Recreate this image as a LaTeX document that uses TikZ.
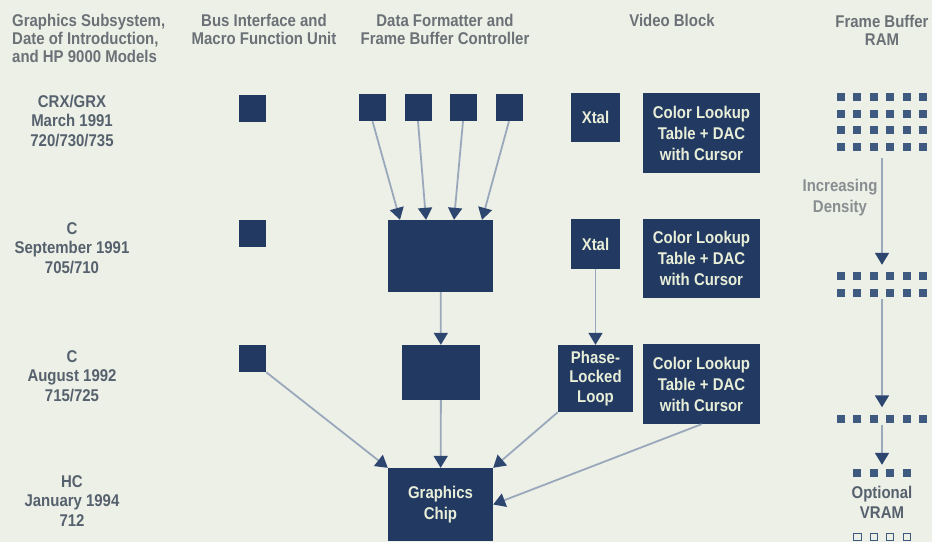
\documentclass[tikz,border=0pt]{standalone}
\usepackage{fontspec}
\setmainfont{Liberation Sans}[FakeStretch=0.88]
\usepackage{xcolor}
\usetikzlibrary{arrows.meta, positioning}
\definecolor{bgc}{HTML}{EDF0E7}
\definecolor{navy}{HTML}{223A62}
\definecolor{ramc}{HTML}{3E5A80}
\definecolor{boxtxt}{HTML}{E8EED8}
\definecolor{hdtxt}{HTML}{6B7176}
\definecolor{rowtxt}{HTML}{56616E}
\definecolor{linec}{HTML}{9AA8BC}
\definecolor{tipc}{HTML}{2C4670}

\begin{document}
\begin{tikzpicture}[x=1pt, y=-1pt,
		every node/.style={font=\bfseries\fontsize{17}{19.5}\selectfont},
		blk/.style={fill=navy, inner sep=0pt, text=boxtxt, align=center,
			font=\bfseries\fontsize{17}{21}\selectfont},
		sq/.style={blk, minimum size=27pt},
		hd/.style={text=hdtxt, inner sep=0pt, align=center,
			font=\bfseries\fontsize{17}{18}\selectfont},
		lbl/.style={text=rowtxt, inner sep=0pt, align=center},
		ramblk/.style={inner sep=0pt, minimum width=90pt},
		ed/.style={draw=linec, line width=1.8pt,
			-{Triangle[length=12pt, width=14pt, color=tipc]}}]
	\path[use as bounding box, fill=bgc] (0,0) rectangle (932,542);

	% column heads
	\node[hd, align=left, anchor=west] (hsub) at (12,38)
		{Graphics Subsystem,\\Date of Introduction,\\and HP 9000 Models};
	\node[hd] (hbus) at (264,29) {Bus Interface and\\Macro Function Unit};
	\node[hd] (hdfc) at (445,29) {Data Formatter and\\Frame Buffer Controller};
	\node[hd] (hvid) at (672,20) {Video Block};
	\node[hd] (hram) at (882,30) {Frame Buffer\\RAM};

	% row labels
	\node[lbl] (r1) at (72,121) {CRX/GRX\\March 1991\\720/730/735};
	\node[lbl] (r2) at (72,248) {C\\September 1991\\705/710};
	\node[lbl] (r3) at (72,376) {C\\August 1992\\715/725};
	\node[lbl] (r4) at (72,501) {HC\\January 1994\\712};

	% bus interface
	\node[sq] (bus1) at (252.5,108) {};
	\node[sq] (bus2) at (252.5,233.5) {};
	\node[sq] (bus3) at (252.5,358.5) {};

	% data formatter / frame buffer controller
	\foreach \i/\x in {1/372.5, 2/418, 3/463, 4/509}
		\node[sq] (df\i) at (\x,107.5) {};
	\node[blk, minimum width=105pt, minimum height=72pt] (dfc2) at (440.5,256) {};
	\node[blk, minimum width=78pt, minimum height=55pt] (dfc3) at (441,372.5) {};
	\node[blk, minimum width=105pt, minimum height=73pt] (chip) at (440.5,504.5) {Graphics\\Chip};

	% video block
	\node[blk, minimum width=49pt, minimum height=49pt] (xtal1) at (595.5,117.5) {Xtal};
	\node[blk, minimum width=117pt, minimum height=80pt] (clut1) at (701.5,133)
		{Color Lookup\\Table + DAC\\with Cursor};
	\node[blk, minimum width=49pt, minimum height=50pt] (xtal2) at (595.5,244) {Xtal};
	\node[blk, minimum width=117pt, minimum height=79pt] (clut2) at (701.5,258.5)
		{Color Lookup\\Table + DAC\\with Cursor};
	\node[blk, minimum width=75pt, minimum height=67pt,
		font=\bfseries\fontsize{17}{19.5}\selectfont] (pll) at (595.5,378.5)
		{Phase-\\Locked\\Loop};
	\node[blk, minimum width=117pt, minimum height=80pt] (clut3) at (701.5,384)
		{Color Lookup\\Table + DAC\\with Cursor};

	% frame buffer RAM
	\node[ramblk, minimum height=58pt] (ram1) at (882,122) {};
	\node[ramblk, minimum height=25pt] (ram2) at (882,284.5) {};
	\node[ramblk, minimum height=8pt] (ram3) at (882,418.5) {};
	\node[ramblk, minimum width=57pt, minimum height=8pt] (ram4) at (882,473) {};
	\foreach \c in {0,...,5} {
		\foreach \r in {0,...,3}
			\fill[ramc] (837+16.4*\c, 93+16.7*\r) rectangle ++(8,8);
		\foreach \r in {0,1}
			\fill[ramc] (837+16.4*\c, 272+17*\r) rectangle ++(8,8);
		\fill[ramc] (837+16.4*\c, 414.5) rectangle ++(8,8);
	}
	\foreach \c in {0,...,3} {
		\fill[ramc] (853.4+16.4*\c, 469) rectangle ++(8,8);
		\draw[ramc, line width=0.8pt] (853.8+16.4*\c, 533.4) rectangle ++(7.2,7.2);
	}
	\node[text=hdtxt!80, inner sep=0pt, align=center,
		font=\bfseries\fontsize{17}{21}\selectfont] (incr) at (840,197.5) {Increasing\\Density};
	\node[lbl] (vram) at (882,502.5) {Optional\\VRAM};

	% connectors
	\foreach \i/\dx in {1/-40.5, 2/-14.5, 3/13.5, 4/41.5}
		\draw[ed] (df\i.south) -- ([xshift=\dx pt]dfc2.north);
	\draw[ed] (dfc2) -- (dfc3);
	\draw[ed] (xtal2) -- (pll);
	\draw[ed] (dfc3) -- (chip);
	\draw[ed] (bus3.south east) -- (chip.north west);
	\draw[ed] (pll.south west) -- (chip.north east);
	\draw[ed] (clut3.south) -- (chip.east);
	\draw[ed, shorten <=7pt, shorten >=7pt] (ram1) -- (ram2);
	\draw[ed, shorten <=2pt, shorten >=7pt] (ram2) -- (ram3);
	\draw[ed, shorten <=2pt, shorten >=4pt] (ram3) -- (ram4);
\end{tikzpicture}
\end{document}
